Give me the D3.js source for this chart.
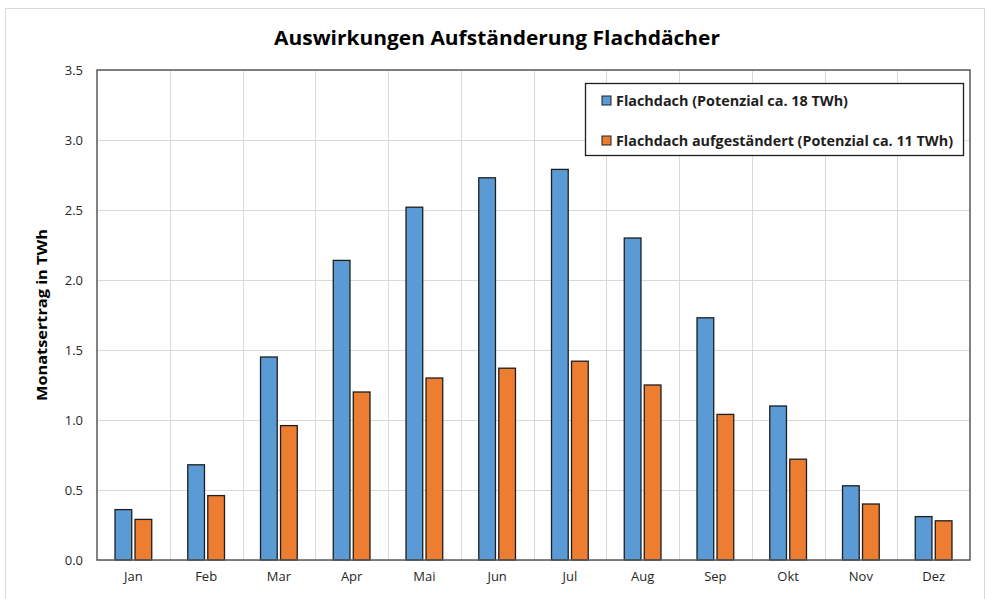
<!DOCTYPE html>
<html><head><meta charset="utf-8">
<script src="https://cdn.jsdelivr.net/npm/d3@7"></script>
<style>body{margin:0;background:#fff}svg{display:block}</style>
</head><body>
<svg id="c" width="987" height="599"></svg>
<script>
const months = ["Jan","Feb","Mar","Apr","Mai","Jun","Jul","Aug","Sep","Okt","Nov","Dez"];
const flachdach = [0.36,0.68,1.45,2.14,2.52,2.73,2.79,2.30,1.73,1.10,0.53,0.31];
const aufgestaendert = [0.29,0.46,0.96,1.20,1.30,1.37,1.42,1.25,1.04,0.72,0.40,0.28];
const seriesNames = ["Flachdach (Potenzial ca. 18 TWh)","Flachdach aufgeständert (Potenzial ca. 11 TWh)"];
const yTicks = [0,0.5,1.0,1.5,2.0,2.5,3.0,3.5];
const title = "Auswirkungen Aufständerung Flachdächer";
const yLabel = "Monatsertrag in TWh";

const colors = ["#5B9BD5","#ED7D31"];
const font = "'Open Sans', 'Noto Sans', sans-serif";
const svg = d3.select("#c");
const m = {l:97, r:970, t:70, b:560};

// outer chart border
svg.append("rect").attr("x",5.5).attr("y",8.5).attr("width",979).attr("height",600)
  .attr("fill","#fff").attr("stroke","#d9d9d9");

const x = d3.scaleBand().domain(months).range([m.l,m.r]).padding(0);
const x1 = d3.scaleBand().domain([0,1]).range([0,x.bandwidth()]).paddingInner(0.165).paddingOuter(0.9);
const y = d3.scaleLinear().domain([0,3.5]).range([m.b,m.t]);

// gridlines
const g = svg.append("g");
g.selectAll(".hg").data(yTicks).enter().append("line")
  .attr("x1",m.l).attr("x2",m.r).attr("y1",d=>Math.round(y(d))+0.5).attr("y2",d=>Math.round(y(d))+0.5)
  .attr("stroke","#d9d9d9").attr("stroke-width",1);
g.selectAll(".vg").data(months.slice(1)).enter().append("line")
  .attr("y1",m.t).attr("y2",m.b).attr("x1",d=>Math.round(x(d))+0.5).attr("x2",d=>Math.round(x(d))+0.5)
  .attr("stroke","#d9d9d9").attr("stroke-width",1);

// bars
const data = months.map((mo,i)=>({mo, v:[flachdach[i], aufgestaendert[i]]}));
const grp = svg.append("g").selectAll("g").data(data).enter().append("g")
  .attr("transform",d=>`translate(${x(d.mo)},0)`);
grp.selectAll("rect").data(d=>d.v.map((v,k)=>({v,k}))).enter().append("rect")
  .attr("x",d=>x1(d.k)).attr("width",x1.bandwidth())
  .attr("y",d=>y(d.v)).attr("height",d=>y(0)-y(d.v))
  .attr("fill",d=>colors[d.k]).attr("stroke","#1e1e1e").attr("stroke-width",1.3);

// plot frame
svg.append("rect").attr("x",m.l).attr("y",m.t).attr("width",m.r-m.l).attr("height",m.b-m.t)
  .attr("fill","none").attr("stroke","#595959").attr("stroke-width",1.5);

// axes
const ya = svg.append("g").attr("transform",`translate(${m.l},0)`)
  .call(d3.axisLeft(y).tickValues(yTicks).tickFormat(d3.format(".1f")).tickSize(0).tickPadding(14));
ya.select(".domain").remove();
ya.selectAll("text").attr("font-family",font).attr("font-size",13).attr("fill","#262626");

const xa = svg.append("g").attr("transform",`translate(0,${m.b})`)
  .call(d3.axisBottom(x).tickSize(0).tickPadding(12));
xa.select(".domain").remove();
xa.selectAll("text").attr("font-family",font).attr("font-size",13).attr("fill","#262626");

// title
svg.append("text").attr("x",497).attr("y",45).attr("text-anchor","middle")
  .attr("font-family",font).attr("font-weight","bold").attr("font-size",20)
  .attr("textLength",446).attr("lengthAdjust","spacingAndGlyphs").attr("fill","#000").text(title);

// y label
svg.append("text").attr("transform","translate(47,315) rotate(-90)").attr("text-anchor","middle")
  .attr("font-family",font).attr("font-weight","bold").attr("font-size",15)
  .attr("textLength",172).attr("lengthAdjust","spacingAndGlyphs").attr("fill","#000").text(yLabel);

// legend
const lg = svg.append("g");
lg.append("rect").attr("x",585.5).attr("y",83.5).attr("width",378).attr("height",72)
  .attr("fill","#fff").attr("stroke","#1e1e1e").attr("stroke-width",1.3);
const legW = [232, 337];
seriesNames.forEach((s,i)=>{
  const yy = 101 + i*40;
  lg.append("rect").attr("x",602).attr("y",yy-5).attr("width",9).attr("height",9)
    .attr("fill",colors[i]).attr("stroke","#1e1e1e").attr("stroke-width",1);
  lg.append("text").attr("x",616).attr("y",yy+5).attr("font-family",font).attr("font-weight","bold")
    .attr("font-size",14).attr("textLength",legW[i]).attr("lengthAdjust","spacingAndGlyphs")
    .attr("fill","#1e1e1e").text(s);
});
</script>
</body></html>
